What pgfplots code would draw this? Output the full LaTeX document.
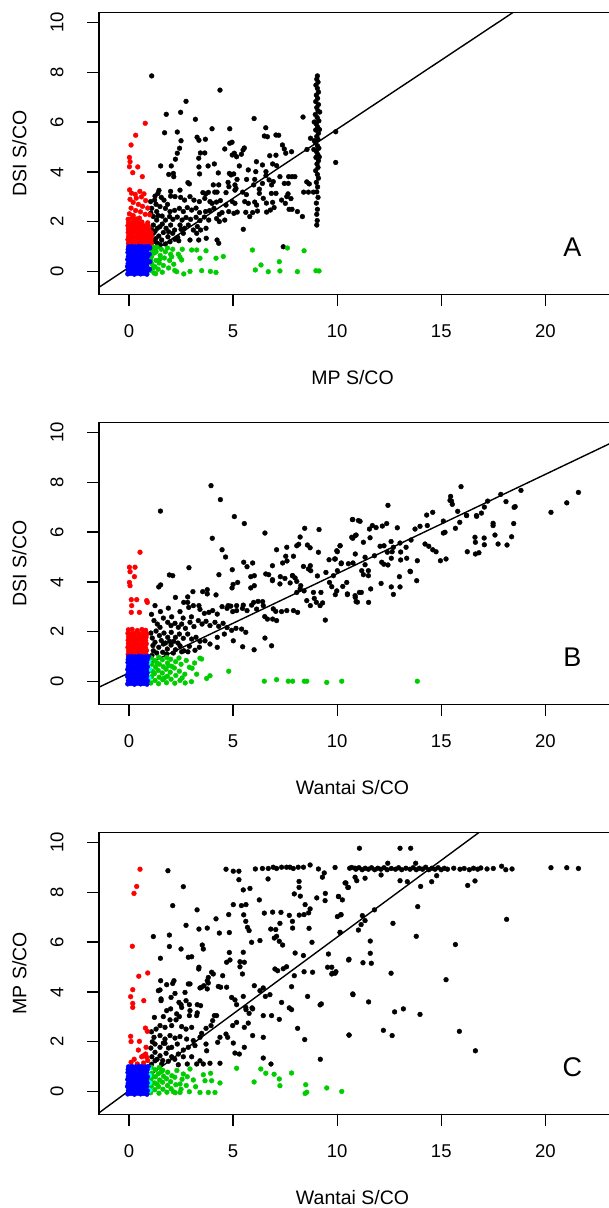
\documentclass[border=0pt]{standalone}
\usepackage{fontspec}
\setmainfont{Liberation Sans}
\usepackage{pgfplots}
\pgfplotsset{compat=1.18}
\definecolor{rred}{RGB}{255,0,0}
\definecolor{rblue}{RGB}{0,0,255}
\definecolor{rgreen}{RGB}{0,205,0}
\definecolor{rcyan}{RGB}{0,255,255}

\pgfplotsset{
  panel/.style={
    scale only axis, width=519.2pt, height=282pt,
    xmin=-1.441, xmax=23.5, ymin=-0.906, ymax=10.4,
    xtick={0,5,10,15,20}, ytick={0,2,4,6,8,10},
    tick pos=left, tick align=outside, major tick length=12pt,
    axis line style={line width=1.3pt},
    every tick/.style={black, line width=1.3pt},
    /pgf/number format/assume math mode=true,
    tick label style={font=\fontsize{18.5}{21}\selectfont},
    xticklabel style={yshift=-15pt},
    yticklabel style={xshift=-20pt, rotate=90, anchor=south},
    label style={font=\fontsize{19.5}{23}\selectfont},
    xlabel style={at={(axis description cs:0.4883,-0.2943)}, anchor=center},
    ylabel style={at={(axis description cs:-0.1531,0.5)}, anchor=center},
  },
  dot/.style={only marks, mark=*, mark size=2.4pt},
  fit/.style={black, line width=1.4pt, no marks},
}

% dense cluster of negatives, same in all panels
\pgfplotstableread{
x y
-0.06 -0.09
0.09 -0.07
0.26 -0.10
0.41 -0.06
0.56 -0.09
0.71 -0.07
0.86 -0.10
-0.03 0.05
0.12 0.07
0.24 0.04
0.39 0.08
0.57 0.05
0.69 0.07
0.88 0.04
-0.07 0.21
0.10 0.19
0.27 0.22
0.42 0.18
0.54 0.21
0.72 0.20
0.85 0.22
-0.04 0.33
0.11 0.36
0.25 0.33
0.40 0.35
0.58 0.34
0.70 0.32
0.87 0.35
-0.06 0.49
0.08 0.47
0.26 0.50
0.43 0.47
0.55 0.49
0.73 0.48
0.84 0.47
-0.03 0.61
0.12 0.63
0.24 0.60
0.39 0.64
0.57 0.61
0.68 0.63
0.88 0.60
-0.05 0.77
0.10 0.75
0.27 0.78
0.41 0.74
0.56 0.77
0.72 0.75
0.85 0.77
-0.04 0.89
0.09 0.91
0.25 0.88
0.42 0.92
0.54 0.89
0.71 0.91
0.87 0.88
-0.02 1.00
0.14 1.01
0.30 0.99
0.47 1.02
0.62 1.00
0.78 0.99
0.92 1.01
}\negblob

\begin{document}
\begin{tikzpicture}
\useasboundingbox (0,0) rectangle (609pt,1208pt);

% ---------------- A ----------------
\begin{axis}[panel, at={(99pt,913.7pt)}, anchor=south west,
  xlabel={MP S/CO}, ylabel={DSI S/CO}]
\addplot[dot, black] coordinates {
(1.09,7.85)(4.37,7.28)(2.74,6.83)(2.48,6.39)(1.79,6.31)(3.19,6.11)(6.01,6.14)(8.36,6.20)
(1.71,5.57)(2.32,5.60)(3.99,5.73)(4.84,5.73)(6.57,5.77)(2.50,5.25)(3.27,5.39)(3.36,5.27)(3.67,5.31)
(4.84,5.15)(4.95,5.19)(6.50,5.44)(6.65,5.41)(7.06,5.48)(7.19,5.47)(4.60,4.92)(5.54,4.96)(5.48,4.88)
(7.37,5.08)(7.46,4.92)(7.81,4.81)(2.32,4.75)(2.43,4.95)(3.43,4.76)(3.64,4.76)(4.96,4.68)(5.06,4.75)(5.17,4.61)
(5.40,4.71)(6.76,4.65)(7.06,4.67)(7.53,4.75)(2.23,4.51)(3.35,4.55)(1.52,4.24)(2.03,4.24)(3.36,4.20)(3.80,4.24)(4.10,4.32)
(5.30,4.24)(6.12,4.41)(6.41,4.28)(6.90,4.32)(7.09,4.25)(6.09,4.01)(6.58,4.01)(5.73,4.08)
(2.13,3.94)(1.91,3.90)(2.15,3.81)(3.39,3.92)(4.29,3.96)(4.82,3.94)(4.90,3.88)(5.03,3.92)(5.19,3.70)(5.65,3.70)(6.04,3.70)
(6.58,3.85)(6.73,3.68)(7.25,3.81)(7.67,3.81)(7.83,3.81)(7.97,3.81)(6.93,3.61)(6.85,3.48)(2.83,3.57)(2.90,3.52)
(4.76,3.58)(4.80,3.41)(4.31,3.48)(4.05,3.48)(5.09,3.48)(5.14,3.34)(5.99,3.48)(6.41,3.54)(7.46,3.54)(7.65,3.54)(8.54,3.60)(8.66,3.52)
(1.44,3.26)(1.39,3.14)(1.25,3.03)(2.00,3.22)(2.45,3.27)(3.55,3.17)(3.68,3.12)(3.81,3.18)(4.12,3.19)(4.23,3.19)(4.66,3.17)
(5.09,3.27)(5.46,3.19)(5.64,3.09)(6.26,3.31)(6.26,3.14)(6.84,3.14)(7.06,3.14)(7.64,3.12)(7.58,3.01)(8.39,3.19)(8.62,3.19)(8.86,3.19)
(1.04,2.81)(1.23,2.87)(1.55,2.98)(1.68,2.87)(2.00,3.03)(2.21,3.01)(2.48,2.98)(2.67,2.87)(2.93,3.01)(3.12,2.87)(3.38,2.81)(3.64,2.94)
(3.89,2.81)(3.99,2.74)(4.20,2.79)(4.39,2.85)(4.66,2.67)(4.96,2.81)(5.09,2.74)(5.56,2.81)(5.73,2.74)(6.04,2.79)(6.13,2.67)(6.45,2.94)(6.60,2.75)(6.90,2.78)(7.33,2.87)(7.51,2.74)(7.78,2.93)
(1.09,2.54)(1.33,2.41)(1.49,2.61)(1.75,2.54)(1.97,2.41)(2.19,2.46)(2.42,2.54)(2.61,2.41)(2.80,2.57)(3.01,2.47)(3.22,2.55)(3.39,2.37)(3.68,2.41)(3.87,2.45)(4.08,2.54)(4.34,2.30)(4.47,2.37)(4.79,2.41)(5.04,2.34)(5.20,2.39)(5.61,2.38)(5.80,2.21)(5.94,2.37)(6.17,2.43)(6.61,2.39)(6.79,2.47)(6.97,2.57)(7.69,2.50)(7.83,2.50)(8.09,2.41)(8.33,2.21)
(1.17,2.21)(1.33,2.07)(1.59,2.23)(1.75,2.07)(1.95,2.21)(2.11,2.10)(2.32,2.19)(2.55,2.07)(2.74,2.17)(2.96,2.10)(3.22,2.18)(3.41,2.05)(3.62,2.19)(3.83,2.07)(4.21,2.13)(4.34,2.01)(4.60,2.07)(5.49,1.70)
(1.17,1.87)(1.36,1.74)(1.60,1.91)(1.78,1.74)(2.00,1.87)(2.19,1.67)(2.45,1.87)(2.67,1.74)(2.85,1.87)(3.09,1.67)(3.28,1.81)(3.44,1.67)(3.70,1.74)(3.25,1.54)
(1.17,1.54)(1.43,1.43)(1.65,1.57)(1.87,1.40)(2.10,1.54)(2.34,1.38)(2.61,1.54)(2.93,1.27)(3.35,1.27)(3.71,1.34)
(1.17,1.20)(1.36,1.14)(1.57,1.27)(1.75,1.11)(1.97,1.20)(2.39,1.24)(4.23,1.27)(4.31,1.14)(7.41,1.00)
(1.05,1.05)(1.28,1.32)(1.08,1.68)(1.25,1.62)(1.50,1.08)(1.48,1.80)(1.90,1.60)(2.20,1.30)(2.50,1.70)(1.05,2.35)(1.40,2.25)(1.30,2.70)(1.85,2.70)
(9.05,7.85)(9.02,7.72)(9.08,7.60)(8.98,7.48)(9.05,7.35)(9.10,7.20)(9.00,7.08)(9.06,6.95)(8.97,6.82)(9.10,6.70)(9.02,6.58)(9.08,6.45)(8.95,6.30)(9.04,6.18)(9.12,6.05)(9.00,5.92)(9.06,5.80)(8.97,5.68)(9.10,5.55)(9.02,5.42)(9.08,5.30)(8.96,5.18)(9.05,5.05)(9.12,4.95)(9.00,4.82)(9.07,4.70)(8.98,4.58)(9.10,4.45)(9.03,4.32)(9.08,4.18)(8.97,4.05)(9.05,3.90)(9.10,3.75)(9.00,3.58)(9.06,3.40)(9.02,3.20)(9.08,2.98)(9.00,2.75)(9.05,2.50)(9.02,2.30)(9.04,2.05)(9.02,1.87)
(8.90,5.25)(8.88,4.90)(9.15,5.70)(9.16,6.40)(8.90,6.00)(9.14,4.60)(9.93,5.61)(9.93,4.38)(8.72,5.35)(8.55,4.90)
};
\addplot[dot, rred] coordinates {
(0.78,5.95)(0.32,5.47)(0.10,5.08)(0.02,4.58)(0.05,4.41)(0.02,4.21)(0.42,4.20)(0.18,3.97)(0.64,3.81)
(0.03,3.28)(0.12,3.15)(0.30,3.10)(0.52,3.22)(0.72,3.12)(0.60,3.00)(0.35,2.95)(0.05,2.90)(0.80,2.85)(0.20,2.78)(0.45,2.70)(0.65,2.62)(0.10,2.55)(0.90,2.55)(0.32,2.45)(0.55,2.40)(0.02,2.32)(0.78,2.30)(0.20,2.25)(1.00,2.28)
(-0.04,2.10)(0.14,2.14)(0.34,2.11)(0.50,2.15)
(-0.02,1.98)(0.12,1.96)(0.28,2.00)(0.45,1.97)(0.62,1.99)(0.90,1.96)
(-0.05,1.85)(0.11,1.83)(0.27,1.86)(0.43,1.82)(0.60,1.85)(0.76,1.84)(0.93,1.83)
(-0.03,1.70)(0.13,1.72)(0.29,1.69)(0.45,1.71)(0.59,1.68)(0.77,1.71)(0.95,1.70)
(-0.04,1.57)(0.10,1.55)(0.26,1.58)(0.44,1.55)(0.61,1.57)(0.75,1.54)(0.92,1.56)(1.06,1.57)
(-0.02,1.42)(0.14,1.43)(0.28,1.40)(0.42,1.44)(0.58,1.41)(0.76,1.43)(0.94,1.41)(1.08,1.42)
(-0.05,1.29)(0.11,1.27)(0.27,1.30)(0.45,1.27)(0.60,1.29)(0.74,1.26)(0.90,1.29)(1.05,1.28)
(-0.03,1.14)(0.13,1.15)(0.30,1.13)(0.46,1.16)(0.62,1.13)(0.78,1.15)(0.95,1.13)(1.07,1.15)
};
\addplot[dot, rgreen] coordinates {
(1.05,0.05)(1.10,0.30)(1.08,0.60)(1.12,0.90)(1.20,-0.05)(1.25,0.20)(1.30,0.45)(1.22,0.75)(1.35,0.98)(1.40,0.10)(1.45,0.35)(1.50,0.65)(1.55,0.90)(1.60,-0.02)(1.65,0.25)(1.70,0.55)(1.75,0.80)(1.85,0.95)(1.90,0.15)(1.95,0.45)(2.00,0.70)(2.10,0.90)(2.15,0.30)(2.20,0.05)(1.15,0.15)(1.30,0.80)(1.48,0.50)(1.05,0.45)(1.10,0.75)(1.18,0.98)(1.28,-0.08)(2.05,0.60)
(2.56,0.90)(3.01,0.87)(3.25,0.87)(3.70,0.84)(5.93,0.87)(7.61,0.95)(8.41,0.84)(2.37,0.70)(2.45,0.58)(3.41,0.54)(4.18,0.54)(4.53,0.61)(2.53,0.47)(7.22,0.40)(6.34,0.27)(2.29,0.00)(2.63,-0.09)(2.93,0.01)(3.49,0.04)(3.91,0.01)(4.18,-0.03)(6.07,0.07)(6.69,0.00)(7.25,0.03)(8.09,0.00)(8.98,0.04)(9.13,0.03)
};
\addplot[dot, rblue] table {\negblob};
\addplot[dot, rblue] coordinates {(0.98,0.10)(1.00,0.40)(0.97,0.70)(1.00,0.95)};
\addplot[fit] coordinates {(-2,-0.936) (24,13.47)};
\node[font=\fontsize{27}{30}\selectfont] at (axis cs:21.3,1.0) {A};
\end{axis}

% ---------------- B ----------------
\begin{axis}[panel, at={(99pt,503.7pt)}, anchor=south west,
  xlabel={Wantai S/CO}, ylabel={DSI S/CO}]
\addplot[dot, black] coordinates {
(3.94,7.86)(4.39,7.30)(1.51,6.84)(5.06,6.62)(5.54,6.34)(4.00,5.75)(4.47,5.29)(4.64,5.00)(6.53,5.96)(8.44,6.15)(8.22,5.80)(9.13,6.10)(10.73,6.50)(10.87,5.86)(11.02,6.46)(8.06,5.45)(8.15,5.51)(8.57,5.48)(8.70,5.37)(7.58,5.39)(7.90,5.03)(9.10,5.19)(10.14,5.45)(9.98,5.25)(7.09,5.29)(7.53,5.03)(2.88,4.57)(1.94,4.28)(2.10,4.25)(5.51,4.79)(5.94,4.76)(5.67,4.61)(6.89,4.65)(7.38,4.76)(7.59,4.84)(7.86,4.25)(8.38,4.62)(8.71,4.65)(9.61,4.89)(9.91,4.92)(10.20,4.76)(10.76,4.76)(4.96,4.49)(4.32,4.29)(5.85,4.21)(6.02,4.25)(6.57,4.32)(6.71,4.29)(6.89,4.09)(7.27,4.21)(7.49,4.14)(7.85,4.25)(7.98,4.16)(8.62,4.52)(8.73,4.45)(9.05,4.24)(9.46,4.38)(9.82,4.25)(10.01,4.45)
(1.43,3.80)(1.52,3.88)(3.76,3.69)(5.00,3.90)(4.95,3.76)(5.22,3.98)(5.85,3.76)(6.02,3.85)(6.89,4.05)(7.25,3.92)(7.74,3.96)(8.06,4.02)(8.25,3.85)(8.06,3.58)(8.22,3.72)(8.41,3.64)(8.86,3.58)(9.22,3.58)(9.63,3.98)(9.74,3.81)(9.98,3.64)(10.46,3.98)(10.49,3.52)(10.86,3.45)(10.91,3.21)(11.07,3.58)(2.23,3.38)(2.82,3.40)(3.07,3.61)(3.54,3.61)(3.76,3.52)(4.18,3.48)(4.76,3.05)(4.89,3.03)(5.17,3.05)(5.49,3.07)(5.99,3.18)(6.20,3.22)(6.42,3.21)(6.45,3.05)(6.93,2.92)(7.05,2.82)(7.33,2.81)(7.58,2.85)(7.90,2.85)(8.10,2.78)(8.54,3.25)(8.71,3.05)(8.90,3.34)(9.00,3.18)(9.18,3.05)(9.30,3.16)(9.43,2.47)
(2.63,3.18)(2.82,3.18)(2.87,2.98)(3.09,3.05)(3.36,3.05)(3.41,2.90)(3.62,2.74)(3.84,2.78)(4.02,2.85)(4.24,2.71)(4.47,3.01)(4.71,2.94)(4.98,2.81)(5.17,2.85)(5.45,2.94)(5.67,2.85)(5.89,3.07)(6.13,2.91)(6.52,2.61)(6.65,2.51)(6.90,2.51)(7.09,2.45)(1.25,3.05)(1.51,2.81)(1.89,2.95)(2.45,2.81)
(1.36,2.31)(1.49,2.18)(1.86,2.38)(2.02,2.25)(2.21,2.34)(2.37,2.18)(2.53,2.31)(2.71,2.14)(2.93,2.38)(3.12,2.21)(3.33,2.45)(3.51,2.31)(3.70,2.42)(3.89,2.25)(4.13,2.38)(4.31,2.22)(4.52,2.34)(4.71,2.17)(4.93,2.06)(5.14,2.14)(5.41,2.11)(5.61,1.98)(6.53,1.75)(6.85,1.44)(6.01,1.28)(4.24,1.38)
(1.30,2.03)(1.46,1.85)(1.68,1.95)(1.86,1.78)(2.03,1.98)(2.23,1.78)(2.42,1.91)(2.61,1.74)(2.82,1.91)(3.01,1.71)(3.22,1.78)(3.41,1.62)(3.65,1.64)(3.89,1.51)(4.24,1.78)(4.58,1.91)(5.01,1.64)(5.46,1.40)
(1.25,1.58)(1.43,1.38)(1.65,1.51)(1.84,1.31)(2.02,1.47)(2.23,1.28)(2.45,1.44)(2.64,1.24)(2.90,1.42)(3.17,1.26)(3.38,1.38)(1.17,1.24)(1.33,1.15)(1.62,1.18)(1.81,1.11)(2.13,1.15)(2.53,1.20)(2.83,1.20)
(1.10,1.05)(1.15,1.45)(1.12,1.75)(1.20,2.45)(1.55,1.65)(1.75,1.55)(1.95,1.62)(2.15,1.62)(2.35,1.55)(1.05,1.95)(1.08,2.70)(1.65,2.55)(2.05,2.60)(2.60,2.55)(3.00,2.60)
(15.95,7.82)(15.45,7.43)(15.53,7.11)(17.86,7.51)(18.83,7.67)(21.59,7.59)(21.03,7.17)(20.27,6.79)(17.23,7.24)(17.07,7.00)(18.11,7.22)(18.50,6.99)(18.55,7.02)(15.79,6.83)(16.21,6.67)(16.69,6.66)(16.93,6.76)(18.48,6.34)(17.49,6.35)(17.49,6.26)(10.75,6.50)(11.10,6.43)(12.44,7.07)(11.55,6.12)(11.69,6.26)(11.87,6.18)(12.17,6.24)(12.38,6.34)(12.89,6.17)(13.74,6.12)(13.98,6.23)(14.30,6.68)(14.59,6.79)(14.33,6.26)(15.10,6.44)(15.49,7.24)(15.42,7.27)(15.68,6.15)(15.89,6.39)(16.22,6.66)(16.70,6.63)
(16.62,5.79)(16.64,5.59)(17.06,5.76)(17.58,5.88)(17.73,5.52)(18.16,5.48)(18.38,5.81)(16.25,5.21)(16.64,5.12)(16.81,5.17)(17.07,5.49)(10.75,5.75)(10.91,5.88)(10.70,5.79)(11.26,5.59)(10.14,5.45)(10.01,5.21)(9.88,4.92)(10.19,4.73)(10.54,4.73)(10.87,5.12)(11.34,4.99)(11.58,5.77)(11.79,5.05)(12.06,5.43)(12.25,5.45)(12.41,5.19)(12.59,5.62)(12.70,5.39)(13.02,5.56)(13.31,5.39)(12.64,5.21)(13.05,4.88)(13.55,5.68)(14.22,5.52)(14.40,5.43)(14.59,5.29)(14.75,5.21)(14.96,4.85)(15.23,4.92)(15.10,5.96)(15.18,5.99)(13.85,4.85)(13.52,4.41)
(11.61,3.72)(11.51,3.18)(10.97,3.19)(10.87,3.38)(10.49,3.49)(11.16,3.58)(10.27,3.82)(9.91,3.49)(12.11,3.94)(12.60,3.80)(12.70,3.50)(13.02,3.80)(12.99,4.21)(13.82,4.05)(13.50,4.43)(11.26,4.29)(11.50,4.45)(11.50,4.25)(11.18,4.45)(11.34,4.69)(12.14,4.79)(12.24,4.71)(12.44,4.68)(12.60,4.95)(13.34,4.95)(13.05,5.20)
};
\addplot[dot, rred] coordinates {
(0.53,5.19)(0.02,4.59)(0.29,4.59)(0.05,4.41)(0.26,4.21)(0.02,3.98)(0.05,3.85)(0.11,3.29)(0.37,3.29)(0.13,3.05)(0.50,2.78)(0.11,2.78)(0.85,3.25)(0.88,3.18)
(-0.03,2.08)(0.15,2.10)(0.40,2.05)(0.62,2.09)(0.80,2.06)
(-0.05,1.94)(0.12,1.92)(0.30,1.95)(0.50,1.91)(0.70,1.94)(0.85,1.92)
(-0.02,1.80)(0.14,1.78)(0.32,1.81)(0.48,1.77)(0.66,1.80)(0.82,1.79)
(-0.04,1.66)(0.10,1.65)(0.28,1.67)(0.46,1.64)(0.63,1.66)(0.80,1.65)
(-0.03,1.52)(0.13,1.53)(0.30,1.50)(0.47,1.53)(0.64,1.51)(0.83,1.52)
(-0.05,1.38)(0.11,1.37)(0.27,1.39)(0.45,1.36)(0.62,1.38)(0.79,1.37)
(-0.02,1.24)(0.14,1.25)(0.31,1.23)(0.48,1.26)(0.65,1.23)(0.84,1.25)
(-0.04,1.10)(0.12,1.11)(0.29,1.09)(0.46,1.12)(0.63,1.10)(0.81,1.11)
};
\addplot[dot, rgreen] coordinates {
(4.79,0.42)(3.41,0.94)(3.49,0.91)(2.90,0.58)(3.03,0.54)(3.73,0.13)(3.89,0.24)(6.50,0.02)(7.09,0.08)(7.65,0.02)(7.86,0.02)(8.42,0.02)(8.54,0.02)(9.50,-0.03)(10.22,0.02)(13.85,0.02)
(1.05,-0.05)(1.08,0.20)(1.04,0.45)(1.10,0.70)(1.06,0.95)(1.25,0.05)(1.22,0.32)(1.28,0.58)(1.24,0.85)(1.42,-0.08)(1.45,0.18)(1.40,0.45)(1.46,0.70)(1.43,0.98)(1.62,0.08)(1.60,0.35)(1.65,0.60)(1.60,0.88)(1.80,-0.04)(1.84,0.22)(1.78,0.50)(1.85,0.75)(1.82,0.97)(2.02,0.10)(1.98,0.38)(2.05,0.62)(2.00,0.90)(2.20,-0.06)(2.25,0.25)(2.18,0.55)(2.24,0.80)(2.45,0.05)(2.42,0.42)(2.50,0.70)(2.40,0.95)(2.70,-0.05)(2.68,0.30)(2.75,0.85)(3.00,0.00)(3.15,0.75)(3.25,0.30)(2.55,0.15)(1.15,0.40)(1.35,0.75)(1.70,0.15)(1.90,0.65)
};
\addplot[dot, rcyan] coordinates {(0.96,0.15)(0.98,0.50)(0.95,0.80)};
\addplot[dot, rblue] table {\negblob};
\addplot[fit] coordinates {(-2,-0.443) (24,9.905)};
\node[font=\fontsize{27}{30}\selectfont] at (axis cs:21.3,1.0) {B};
\end{axis}

% ---------------- C ----------------
\begin{axis}[panel, at={(99pt,93.7pt)}, anchor=south west,
  xlabel={Wantai S/CO}, ylabel={MP S/CO}]
\addplot[dot, black] coordinates {
(1.87,8.86)(2.61,8.22)(2.10,7.46)(1.17,6.22)(1.51,5.35)(1.94,6.28)(1.94,5.82)(2.74,6.67)(3.27,7.29)(3.36,6.52)(2.50,5.72)(2.85,5.39)(3.01,5.41)(3.76,6.56)(3.52,5.88)(3.57,5.72)(4.18,6.93)(4.34,6.36)(4.66,8.92)(5.01,8.84)(5.28,8.84)(5.28,8.50)(4.79,7.10)(4.82,6.38)(5.01,7.50)(5.40,7.46)(5.62,7.50)(5.49,8.09)(5.81,8.15)(5.51,7.09)(5.61,6.83)(5.69,6.59)(5.77,6.46)(5.89,5.99)(6.29,6.06)
(6.07,8.93)(6.41,8.95)(6.69,8.95)(6.93,9.00)(7.09,8.95)(7.33,9.00)(7.57,9.00)(7.73,9.00)(7.89,8.95)(8.13,9.00)(8.38,9.00)(8.70,9.09)(9.10,8.93)(9.90,8.99)(10.70,8.99)(10.86,8.96)
(6.68,8.53)(8.17,8.43)(8.17,8.19)(6.26,7.69)(6.50,7.16)(6.90,7.20)(7.25,6.75)(7.30,7.19)(6.81,6.52)(7.05,6.50)(7.09,6.23)(6.98,6.16)(7.22,6.03)(7.38,5.88)(7.70,7.07)(7.85,6.83)(7.86,6.56)(8.18,7.08)(7.94,7.93)(8.23,7.84)(8.46,7.50)(8.70,7.33)(8.65,6.55)(9.02,7.77)(9.43,7.95)(9.42,7.66)(9.38,8.77)(9.29,8.60)(8.41,7.10)(8.63,7.17)(10.07,7.82)(10.17,7.09)(10.14,6.39)(10.42,8.37)(10.54,8.19)(8.79,5.99)(7.98,5.56)(8.38,5.46)(9.58,5.52)(8.41,4.81)(8.82,4.79)(9.54,4.99)(9.77,4.75)(9.94,4.81)(10.55,5.28)(10.75,3.92)(9.24,3.52)(8.10,2.54)(8.44,2.09)(10.57,2.27)(9.19,1.30)
(7.01,4.92)(7.14,4.85)(7.41,4.93)(7.57,5.01)(7.94,4.65)(7.81,4.21)(8.58,3.82)(9.18,3.48)(7.33,3.58)(7.70,3.36)(7.81,3.29)(6.45,3.05)(6.85,3.05)(7.22,2.90)(5.94,2.25)(6.45,2.18)(6.45,1.35)(6.82,1.11)(5.54,2.58)(5.77,3.14)(5.91,3.36)(5.62,3.29)(6.29,4.05)(6.55,3.82)(6.77,3.89)(5.49,5.59)(5.54,5.19)(5.33,5.21)(5.33,5.01)(5.45,4.72)(4.82,5.58)(4.85,5.28)(4.69,5.19)
(3.97,4.79)(4.05,4.72)(3.76,4.45)(3.81,4.36)(3.60,4.25)(3.76,4.12)(4.29,4.22)(4.40,4.19)(4.69,4.19)(4.93,3.78)(5.17,3.49)(5.09,3.68)(3.36,4.99)(3.35,4.92)(4.50,4.65)(3.81,4.58)(6.02,4.25)(6.45,4.16)(5.49,3.82)(5.61,3.38)(5.94,3.32)(5.17,2.78)(4.98,2.65)(4.66,2.31)(4.74,2.18)(5.01,1.95)(5.73,2.75)(5.54,1.78)(5.09,1.55)(5.30,1.51)(4.26,1.98)(4.37,2.18)(3.94,2.65)(3.70,2.54)(4.21,3.05)(4.10,3.05)(4.02,2.85)(3.49,2.34)(3.25,3.05)(3.44,3.45)(3.28,3.16)
(2.90,3.05)(2.93,3.25)(2.74,3.65)(2.53,3.38)(2.90,3.49)(2.40,3.58)(2.50,3.49)(2.21,3.94)(2.02,3.78)(1.81,4.29)(1.41,4.05)(1.49,4.08)(1.54,3.72)(2.69,3.98)(2.85,4.32)(2.93,4.32)(3.41,4.16)(3.49,4.19)(3.28,3.49)(2.16,4.45)(2.10,4.34)(1.52,4.45)(1.54,3.65)(1.81,3.25)(2.00,3.32)(2.29,3.12)(2.42,3.01)
(1.22,2.98)(1.65,3.01)(1.97,2.88)(2.26,2.88)(1.49,2.65)(1.73,2.58)(1.30,2.51)(2.05,2.65)(2.53,2.61)(2.74,2.51)(3.01,2.58)(1.20,2.18)(1.49,2.25)(1.73,2.11)(1.97,2.25)(2.21,2.15)(2.45,2.21)(2.77,2.11)(3.09,2.05)(3.41,2.18)(1.25,1.91)(1.49,1.78)(1.73,1.94)(2.05,1.78)(2.32,1.91)(2.61,1.67)(2.85,1.78)(3.17,1.85)
(1.25,1.58)(1.49,1.44)(1.78,1.54)(2.05,1.40)(2.37,1.51)(2.61,1.40)(3.01,1.40)(3.41,1.24)(3.57,1.11)(1.25,1.24)(1.57,1.11)(1.89,1.22)(2.37,1.08)(2.80,1.11)(3.25,1.11)(3.89,1.14)(4.37,1.14)(3.70,1.91)(3.73,1.64)
(1.08,1.10)(1.10,1.40)(1.05,1.75)(1.12,2.00)(1.35,1.30)(1.62,1.25)(1.90,1.75)(2.20,1.30)(1.08,2.40)(1.65,1.95)
(11.07,9.76)(13.02,9.76)(13.53,9.76)
(10.60,8.96)(10.90,8.92)(11.05,8.98)(11.20,8.90)(11.35,8.96)(11.50,8.92)(11.65,8.98)(11.80,8.90)(11.95,8.96)(12.10,8.92)(12.25,8.98)(12.40,8.90)(12.60,8.95)(12.80,8.92)(12.95,8.98)(13.10,8.90)(13.30,8.96)(13.50,8.92)(13.65,8.98)(13.80,8.90)(13.95,8.96)(14.10,8.92)(14.25,9.00)(14.40,8.90)(14.55,8.96)(14.70,8.92)(14.85,8.98)(15.00,8.90)(15.15,8.96)(15.30,8.92)(15.60,8.96)(15.90,8.92)(16.10,8.95)(16.35,8.90)(16.55,8.96)(16.75,8.92)(16.90,8.97)(17.20,8.93)(17.50,8.95)(17.90,9.04)(18.10,8.90)(18.40,8.93)(20.27,8.98)(21.03,8.98)(21.59,8.95)
(12.43,9.16)(13.77,9.16)(10.86,8.60)(10.94,8.46)(11.34,8.56)(12.11,8.69)(13.02,8.46)(13.37,8.42)(14.01,8.23)(14.54,8.42)(14.78,8.66)(16.27,8.27)(16.62,8.45)(10.38,8.37)(10.51,8.19)(10.06,7.83)(10.25,7.69)(10.01,7.02)(10.19,7.10)(10.14,6.38)(11.21,7.06)(11.34,6.86)(11.15,6.70)(11.02,6.48)(11.79,7.29)(12.68,6.75)(13.87,7.42)(18.14,6.91)(13.80,6.23)(11.59,6.04)(11.59,5.55)(11.64,5.15)(10.57,5.31)(11.24,5.17)(15.68,5.90)(12.59,4.75)(15.23,4.49)(9.74,4.99)(9.90,4.75)(9.74,4.72)(10.76,3.89)(11.51,3.60)(12.76,3.20)(13.18,3.32)(13.98,3.10)(10.57,2.27)(12.22,2.46)(12.64,2.25)(15.87,2.42)(16.64,1.64)
};
\addplot[dot, rred] coordinates {
(0.53,8.92)(0.37,8.23)(0.24,7.95)(0.16,5.83)(0.90,4.76)(0.47,4.63)(0.18,4.09)(0.08,3.81)(0.18,3.54)(0.18,3.38)(0.71,3.65)(0.79,2.55)(0.88,2.42)(0.08,2.22)(0.10,2.01)(0.50,2.02)(0.45,1.67)(0.82,1.78)(0.69,1.44)(0.61,1.40)(0.10,1.18)(0.40,1.11)(0.80,1.51)(0.85,1.38)(0.70,1.15)(0.90,1.25)(0.25,1.30)
};
\addplot[dot, rgreen] coordinates {
(5.17,0.94)(6.01,0.39)(6.33,0.91)(6.57,0.74)(6.97,0.70)(7.22,0.51)(7.25,0.24)(7.81,0.75)(8.49,0.28)(8.54,-0.02)(8.46,-0.07)(9.50,0.15)(10.22,0.01)(3.92,0.74)(3.97,0.44)(4.37,0.35)(4.13,-0.03)(3.81,-0.03)(3.41,-0.03)(2.90,0.00)(2.45,-0.03)(2.13,0.00)(2.93,0.91)(3.09,0.47)(2.61,0.71)(2.45,0.31)(3.57,0.68)(3.65,0.44)
(1.04,-0.04)(1.07,0.22)(1.05,0.48)(1.09,0.74)(1.06,0.98)(1.24,0.08)(1.23,0.35)(1.27,0.60)(1.25,0.88)(1.44,-0.06)(1.42,0.20)(1.47,0.47)(1.41,0.72)(1.45,0.97)(1.63,0.10)(1.61,0.38)(1.66,0.62)(1.62,0.86)(1.82,-0.02)(1.85,0.25)(1.80,0.52)(1.86,0.78)(2.02,0.12)(2.00,0.40)(2.06,0.64)(2.22,-0.04)(2.25,0.28)(2.20,0.58)(2.30,0.85)(2.50,0.10)(2.55,0.50)(2.75,0.25)(2.80,0.60)(3.20,0.20)(1.15,0.60)(1.35,0.30)(1.55,0.80)
};
\addplot[dot, rcyan] coordinates {(0.98,0.05)(1.00,0.35)(0.97,0.95)(0.99,0.65)};
\addplot[dot, rblue] table {\negblob};
\addplot[fit] coordinates {(-2,-1.192) (24,14.82)};
\node[font=\fontsize{27}{30}\selectfont] at (axis cs:21.3,1.0) {C};
\end{axis}
\end{tikzpicture}
\end{document}
